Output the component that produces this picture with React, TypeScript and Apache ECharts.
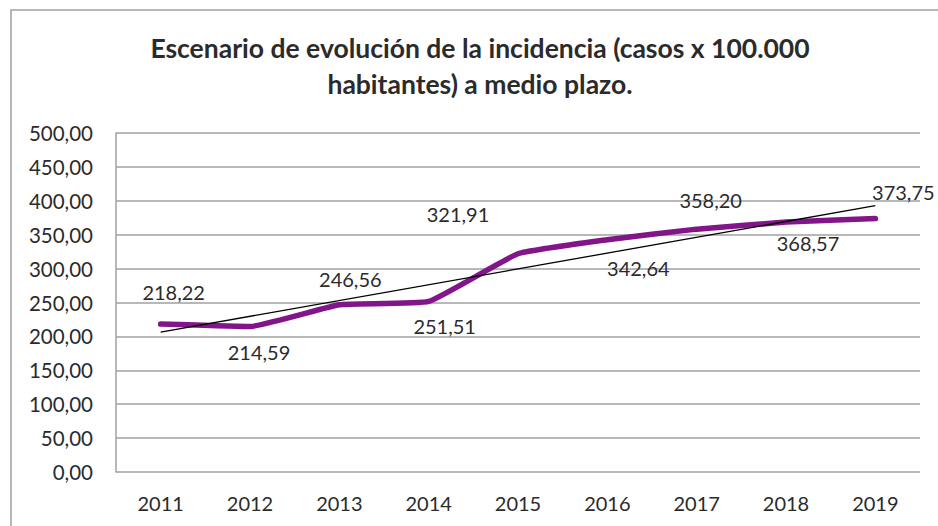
import React, { useEffect, useRef } from "react";
import * as echarts from "echarts";

const categories = ["2011", "2012", "2013", "2014", "2015", "2016", "2017", "2018", "2019"];
const incidence = [218.22, 214.59, 246.56, 251.51, 321.91, 342.64, 358.2, 368.57, 373.75];
// linear trendline endpoints (2011, 2019)
const trendStart = 206.3;
const trendEnd = 392.8;
const yTicks = { min: 0, max: 500, interval: 50 };
const titleLines = ["Escenario de evolución de la incidencia (casos x 100.000", "habitantes) a medio plazo."];

// label placement (style only): pixel offsets from each point
const labelOffsets: [number, number][] = [
  [13, -32], [9, 25], [11, -26], [16, 25], [-60, -40], [31, 28], [14, -29], [22, 21], [28, -27],
];

const FONT = "Lato, 'Open Sans', sans-serif";
const TEXT = "#2b2b2b";

export default function App() {
  const ref = useRef<HTMLDivElement>(null);
  useEffect(() => {
    if (!ref.current) return;
    const chart = echarts.init(ref.current, undefined, { renderer: "svg" });
    const trendData = categories.map((_, i) => (i === 0 ? trendStart : i === categories.length - 1 ? trendEnd : null));
    chart.setOption({
      animation: false,
      backgroundColor: "#ffffff",
      textStyle: { fontFamily: FONT },
      grid: { left: 116, top: 133, right: 18, bottom: 54, containLabel: false },
      graphic: [
        {
          type: "rect",
          shape: { x: 11, y: 10, width: 1200, height: 1000 },
          style: { fill: "none", stroke: "#a0a0a0", lineWidth: 1.5 },
          silent: true,
        },
        {
          type: "text",
          x: 480,
          y: 30,
          style: {
            text: titleLines.join("\n"),
            align: "center",
            verticalAlign: "top",
            fontFamily: FONT,
            fontWeight: "bold",
            fontSize: 26.5,
            lineHeight: 36,
            fill: TEXT,
          },
        },
      ],
      xAxis: {
        type: "category",
        data: categories,
        boundaryGap: true,
        axisLine: { show: false },
        axisTick: { show: false },
        axisLabel: { color: TEXT, fontSize: 20, margin: 21, fontFamily: FONT },
      },
      yAxis: {
        type: "value",
        min: yTicks.min,
        max: yTicks.max,
        interval: yTicks.interval,
        axisLine: { show: true, lineStyle: { color: "#a0a0a0", width: 1.5 } },
        axisTick: { show: false },
        splitLine: { show: true, lineStyle: { color: "#a0a0a0", width: 1.5 } },
        axisLabel: {
          color: TEXT,
          fontSize: 20.5,
          margin: 23,
          fontFamily: FONT,
          formatter: (v: number) => v.toFixed(2).replace(".", ","),
        },
      },
      series: [
        {
          type: "line",
          data: incidence,
          smooth: 0.12,
          symbol: "none",
          showSymbol: false,
          lineStyle: { color: "#83158a", width: 5.5, cap: "round", join: "round" },
          z: 3,
        },
        {
          type: "line",
          data: trendData,
          connectNulls: true,
          symbol: "none",
          showSymbol: false,
          lineStyle: { color: "#000000", width: 1.3 },
          z: 4,
        },
        {
          type: "scatter",
          data: incidence.map((v, i) => ({
            value: v,
            label: { offset: labelOffsets[i] },
          })),
          symbolSize: 1,
          itemStyle: { color: "rgba(0,0,0,0)", opacity: 1 },
          label: {
            show: true,
            position: "inside",
            align: "center",
            verticalAlign: "middle",
            color: TEXT,
            fontSize: 20,
            fontFamily: FONT,
            formatter: (p: any) => Number(p.value).toFixed(2).replace(".", ","),
          },
          z: 5,
        },
      ],
    });
    return () => chart.dispose();
  }, []);
  return <div ref={ref} style={{ position: "absolute", left: 0, top: 0, width: 938, height: 526 }} />;
}
